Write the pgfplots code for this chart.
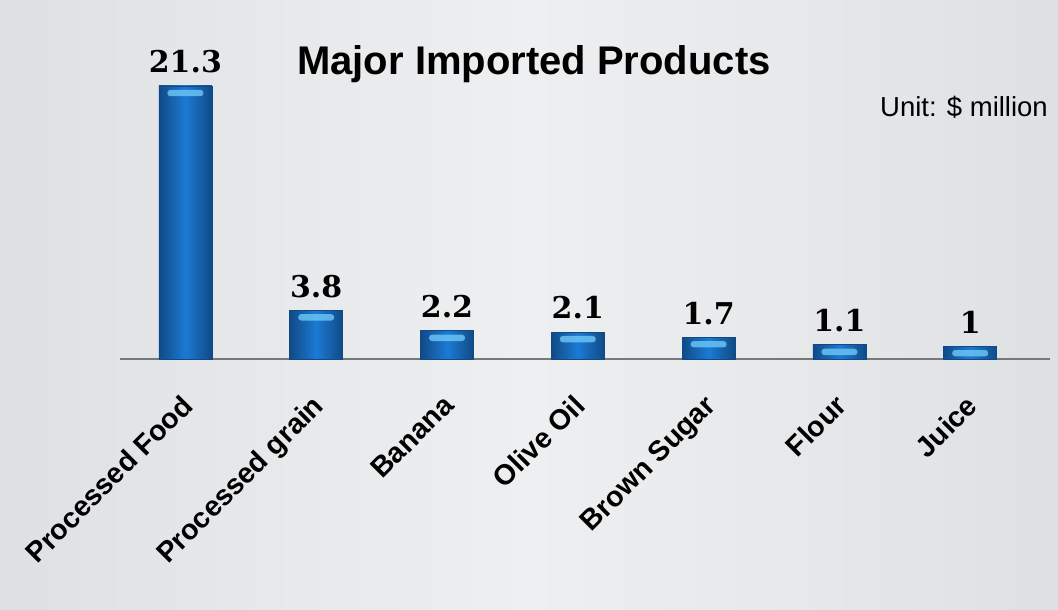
\documentclass[border=0pt]{standalone}
\usepackage{fontspec}
\usepackage{pgfplots}
\pgfplotsset{compat=1.18}
\usepackage{pgfplotstable}
\newfontfamily\sansfont{Liberation Sans}
\newfontfamily\numfont{DejaVu Serif}
\definecolor{bgA}{RGB}{222,225,228}
\definecolor{bgB}{RGB}{238,239,240}
\definecolor{barmid}{RGB}{28,122,212}
\definecolor{baredge}{RGB}{16,74,134}
\definecolor{hilite}{RGB}{110,200,245}
\definecolor{axisgray}{RGB}{120,120,120}

\pgfplotstableread{
x v label
0 21.3 {Processed Food}
1 3.8 {Processed grain}
2 2.2 {Banana}
3 2.1 {Olive Oil}
4 1.7 {Brown Sugar}
5 1.1 {Flour}
6 1 {Juice}
}\datatable

\pgfdeclareplotmark{hl}{%
  \pgfsetcornersarced{\pgfpoint{3pt}{3pt}}%
  \pgfpathrectangle{\pgfpoint{-18pt}{-3.2pt}}{\pgfpoint{36pt}{6.4pt}}%
  \pgfusepath{fill}%
}

\begin{document}
\begin{tikzpicture}
\useasboundingbox (0,0) rectangle (1058pt,610pt);
\shade[shading=axis, shading angle=60, left color=bgA, right color=bgA, middle color=bgB] (0,0) rectangle (1058pt,610pt);
\begin{axis}[
  at={(120pt,251pt)}, anchor=south west,
  scale only axis, width=930pt, height=338pt,
  xmin=-0.5, xmax=6.61, ymin=0, ymax=26.37,
  axis y line=none,
  axis x line*=bottom,
  x axis line style={axisgray, line width=1.3pt, -},
  xtick={0,...,6},
  xticklabels={Processed Food,Processed grain,Banana,Olive Oil,Brown Sugar,Flour,Juice},
  xtick style={draw=none},
  xticklabel style={rotate=45, anchor=north east, inner sep=0pt, xshift=-28pt, yshift=-20pt,
    font=\sansfont\bfseries\fontsize{28.5}{28.5}\selectfont},
  clip=false,
]
\pgfplotsinvokeforeach{0,...,6}{
\addplot[ybar, bar width=53pt, bar shift=0pt, draw=baredge, line width=0.8pt,
  left color=baredge, right color=baredge, middle color=barmid,
  restrict x to domain=#1:#1,
  nodes near coords,
  nodes near coords style={font=\numfont\bfseries\fontsize{30}{30}\selectfont, text=black, anchor=south, yshift=9pt},
  point meta=explicit symbolic]
  table[x=x, y=v, meta=v] {\datatable};
}
\addplot[only marks, mark=hl, mark options={fill=hilite, draw=none, fill opacity=0.8}]
  table[x=x, y expr=\thisrow{v}-0.55] {\datatable};
\end{axis}
\node[font=\sansfont\bfseries\fontsize{40}{40}\selectfont, anchor=base] at (534pt,535pt) {Major Imported Products};
\node[font=\sansfont\fontsize{27.5}{27.5}\selectfont, anchor=base east, inner sep=0pt] at (1048pt,493pt) {Unit: \$ million};
\end{tikzpicture}
\end{document}
